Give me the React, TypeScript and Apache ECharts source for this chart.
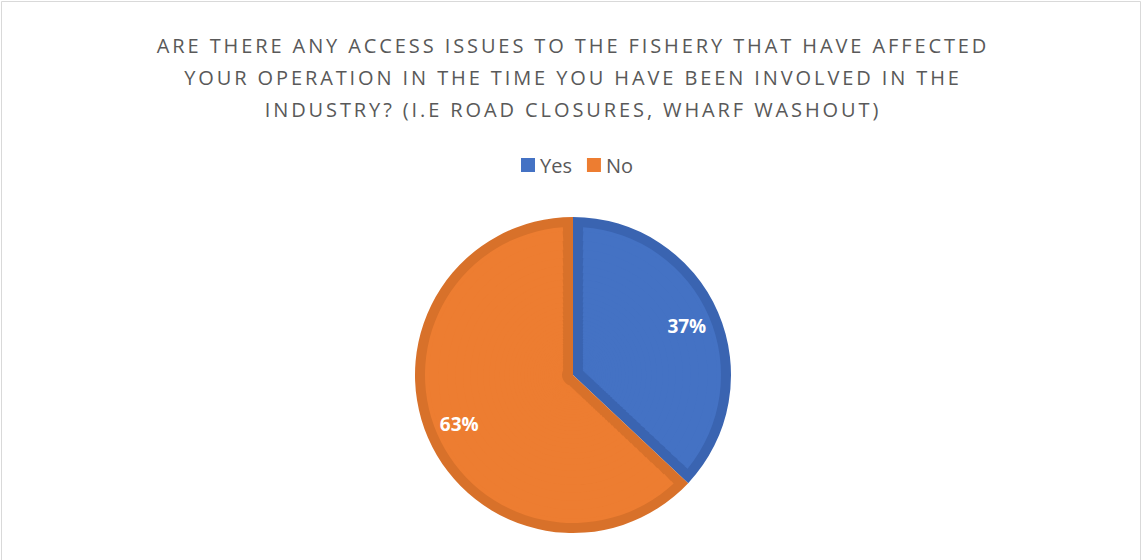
import React, { useEffect, useRef } from "react";
import * as echarts from "echarts";

const categories = ["Yes", "No"];
const values = [37, 63];
const fillColors = ["#4472C4", "#ED7D31"];
const edgeColors = ["#3A64B1", "#D8712A"];
const titleLines = [
  "ARE THERE ANY ACCESS ISSUES TO THE FISHERY THAT HAVE AFFECTED",
  "YOUR OPERATION IN THE TIME YOU HAVE BEEN INVOLVED IN THE",
  "INDUSTRY? (I.E ROAD CLOSURES, WHARF WASHOUT)",
];

const FONT = "'Open Sans', 'Noto Sans', sans-serif";

export default function App() {
  const ref = useRef<HTMLDivElement>(null);
  useEffect(() => {
    if (!ref.current) return;
    const chart = echarts.init(ref.current, undefined, { renderer: "svg" });
    const center = ["573px", "375px"];
    const outerR = 158;
    const inset = 10;
    const innerFillR = outerR - inset;
    const data = (cols: string[]) =>
      categories.map((name, i) => ({ name, value: values[i], itemStyle: { color: cols[i] } }));

    // thin radial bands, each with its own pad angle, so that the darker
    // edge strip along each slice's sides keeps a near-constant width
    const edges: number[] = [11];
    while (edges[edges.length - 1] < innerFillR) {
      edges.push(Math.min(innerFillR, edges[edges.length - 1] * 1.07));
    }
    const bandSeries = edges.slice(0, -1).map((r0, k) => {
      const r1 = edges[k + 1];
      const mid = (r0 + r1) / 2;
      const padDeg = (2 * Math.asin(inset / mid) * 180) / Math.PI;
      const last = k === edges.length - 2;
      return {
        type: "pie",
        z: 2,
        center,
        radius: [r0, last ? r1 : r1 + 0.8],
        startAngle: 90,
        clockwise: true,
        padAngle: padDeg,
        label: { show: false },
        labelLine: { show: false },
        silent: true,
        data: data(fillColors),
      };
    });

    chart.setOption({
      animation: false,
      backgroundColor: "#ffffff",
      legend: {
        top: 155,
        left: 521,
        padding: 0,
        icon: "rect",
        itemWidth: 14,
        itemHeight: 14,
        itemGap: 15,
        textStyle: { fontFamily: FONT, fontSize: 20, color: "#595959" },
        data: categories.map((name, i) => ({ name, itemStyle: { color: fillColors[i] } })),
        selectedMode: false,
      },
      graphic: [
        {
          type: "rect",
          shape: { x: 1.5, y: 1.5, width: 1139, height: 570 },
          style: { fill: "none", stroke: "#D9D9D9", lineWidth: 1 },
          silent: true,
        },
        ...titleLines.map((line, i) => ({
          type: "text",
          x: 573,
          y: 45 + i * 32,
          silent: true,
          style: {
            text: line,
            fill: "#595959",
            font: `normal 20px ${FONT}`,
            textAlign: "center",
            textVerticalAlign: "middle",
          },
        })),
      ],
      series: [
        {
          type: "pie",
          z: 1,
          center,
          radius: [0, outerR],
          startAngle: 90,
          clockwise: true,
          label: { show: false },
          labelLine: { show: false },
          silent: true,
          data: data(edgeColors),
        },
        ...bandSeries,
        {
          type: "pie",
          z: 3,
          center,
          radius: [84, outerR],
          startAngle: 90,
          clockwise: true,
          silent: true,
          itemStyle: { color: "transparent" },
          label: {
            show: true,
            position: "inside",
            formatter: "{d}%",
            color: "#ffffff",
            fontFamily: FONT,
            fontSize: 19,
            fontWeight: "bold",
          },
          labelLine: { show: false },
          data: categories.map((name, i) => ({ name, value: values[i] })),
        },
      ],
    });

    // widen the title's letter spacing as in the reference
    const texts = ref.current.querySelectorAll("text");
    texts.forEach((t) => {
      if (titleLines.includes((t.textContent || "").trim())) {
        t.setAttribute("letter-spacing", "2.9");
      }
    });

    return () => chart.dispose();
  }, []);
  return (
    <div
      ref={ref}
      style={{ position: "absolute", left: 0, top: 0, width: 1143, height: 560 }}
    />
  );
}
